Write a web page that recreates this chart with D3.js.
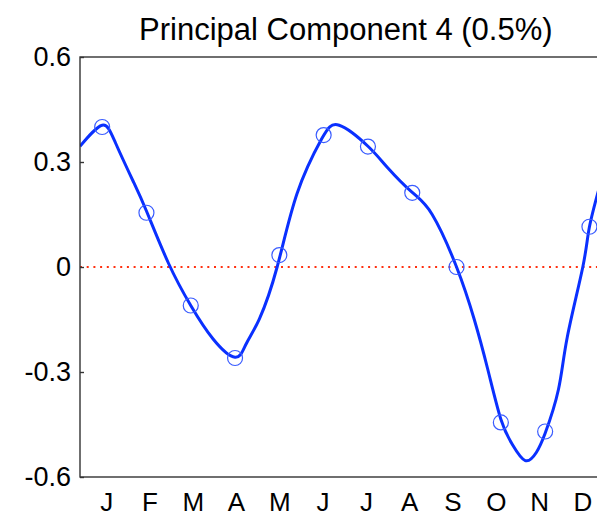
<!DOCTYPE html>
<html>
<head>
<meta charset="utf-8">
<script src="https://cdn.jsdelivr.net/npm/d3@7"></script>
<style>
  html, body { margin: 0; padding: 0; background: #fff; }
  svg { display: block; font-family: "Liberation Sans", Arial, Helvetica, sans-serif; }
</style>
</head>
<body>
<svg id="chart" width="597" height="520"></svg>
<script>
// Monthly loadings of the fourth principal component
const months = [1, 2, 3, 4, 5, 6, 7, 8, 9, 10, 11, 12];
const monthLabels = ["J", "F", "M", "A", "M", "J", "J", "A", "S", "O", "N", "D"];
const pcValues = [0.40, 0.155, -0.11, -0.26, 0.034, 0.377, 0.344, 0.212, 0.0, -0.444, -0.47, 0.115];

// Smoothed fit through the year (month position, value)
const fitMonths = [0.5, 1.0, 1.3, 1.7, 2.0, 2.5, 3.0, 3.5, 4.0, 4.25, 4.55, 4.95, 5.4, 5.95, 6.35,
                   7.0, 7.45, 8.0, 8.45, 9.0, 9.4, 9.7, 10.0, 10.25, 10.55, 10.8, 11.0, 11.3, 11.5,
                   11.85, 12.0, 12.25];
const fitValues = [0.345, 0.405, 0.355, 0.245, 0.16, 0.01, -0.11, -0.205, -0.258, -0.22, -0.148, 0.0,
                   0.21, 0.365, 0.405, 0.345, 0.283, 0.213, 0.15, 0.0, -0.15, -0.29, -0.435, -0.505,
                   -0.553, -0.53, -0.475, -0.35, -0.2, 0.0, 0.115, 0.24];

const yTicks = [-0.6, -0.3, 0, 0.3, 0.6];
const yTickLabels = ["-0.6", "-0.3", "0", "0.3", "0.6"];
const title = "Principal Component 4 (0.5%)";

const svg = d3.select("#chart");
const plotLeft = 80, plotRight = 611.6, plotTop = 57, plotBottom = 477;

const x = d3.scaleLinear().domain([0.5, 12.5]).range([plotLeft, plotRight]);
const y = d3.scaleLinear().domain([-0.6, 0.6]).range([plotBottom, plotTop]);
// month letters sit on a slightly narrower band than the markers
const xLabel = d3.scaleLinear().domain([0.5, 12.5]).range([84.5, 604]);

svg.append("rect").attr("width", 597).attr("height", 520).attr("fill", "#fff");

svg.append("defs").append("clipPath").attr("id", "plotClip")
  .append("rect").attr("x", plotLeft).attr("y", plotTop)
  .attr("width", plotRight - plotLeft).attr("height", plotBottom - plotTop);

// Zero reference line
svg.append("line")
  .attr("x1", plotLeft).attr("x2", plotRight)
  .attr("y1", y(0)).attr("y2", y(0))
  .attr("stroke", "#ff3010").attr("stroke-width", 2)
  .attr("stroke-dasharray", "2,4.7");

const plot = svg.append("g").attr("clip-path", "url(#plotClip)");

// Smoothed curve
const line = d3.line()
  .x((d, i) => x(fitMonths[i]))
  .y(d => y(d))
  .curve(d3.curveNatural);

plot.append("path")
  .attr("d", line(fitValues))
  .attr("fill", "none")
  .attr("stroke", "#0a30ff")
  .attr("stroke-width", 3)
  .attr("stroke-linejoin", "round");

// Monthly markers
plot.selectAll("circle.pt")
  .data(pcValues)
  .join("circle")
  .attr("class", "pt")
  .attr("cx", (d, i) => x(months[i]))
  .attr("cy", d => y(d))
  .attr("r", 7.5)
  .attr("fill", "none")
  .attr("stroke", "#3a5cff")
  .attr("stroke-width", 1.2);

// Axes frame
svg.append("rect")
  .attr("x", plotLeft).attr("y", plotTop)
  .attr("width", plotRight - plotLeft).attr("height", plotBottom - plotTop)
  .attr("fill", "none").attr("stroke", "#333").attr("stroke-width", 1.4);

const yAxis = d3.axisLeft(y)
  .tickValues(yTicks)
  .tickSize(-4)
  .tickPadding(9)
  .tickFormat((d, i) => yTickLabels[i]);

const gy = svg.append("g").attr("transform", `translate(${plotLeft},0)`).call(yAxis);
gy.select(".domain").remove();
gy.selectAll(".tick line").attr("stroke", "#333").attr("stroke-width", 1.4);
gy.selectAll(".tick text").attr("font-size", 27).attr("fill", "#000")
  .attr("font-family", "'Liberation Sans', Arial, sans-serif");

const xAxis = d3.axisBottom(xLabel)
  .tickValues(months)
  .tickSize(0)
  .tickPadding(16)
  .tickFormat((d, i) => monthLabels[i]);

const gx = svg.append("g").attr("transform", `translate(0,${plotBottom})`).call(xAxis);
gx.select(".domain").remove();
gx.selectAll(".tick text").attr("font-size", 26).attr("fill", "#000")
  .attr("font-family", "'Liberation Sans', Arial, sans-serif");

svg.append("text")
  .attr("x", (plotLeft + plotRight) / 2)
  .attr("y", 40)
  .attr("text-anchor", "middle")
  .attr("font-size", 31)
  .attr("fill", "#000")
  .text(title);
</script>
</body>
</html>
